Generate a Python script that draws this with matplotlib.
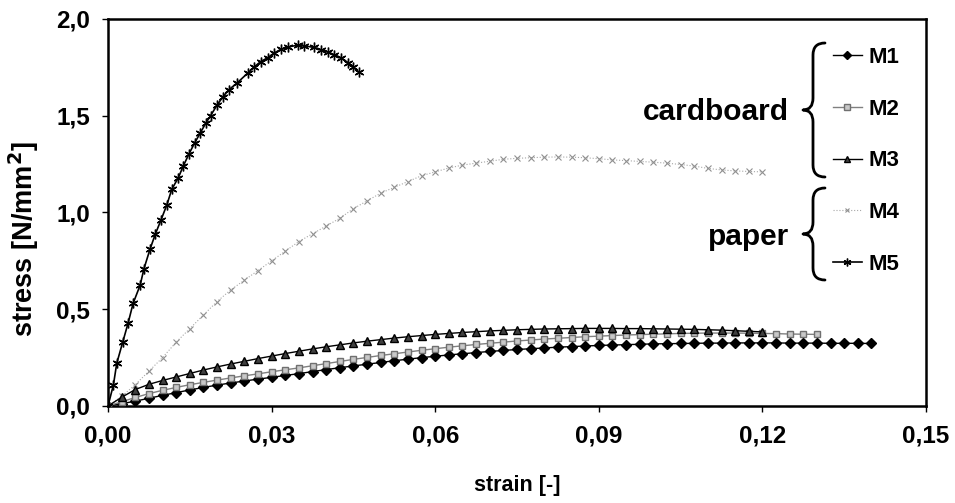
import numpy as np
import matplotlib
matplotlib.use("Agg")
import matplotlib.pyplot as plt
from matplotlib.path import Path
from matplotlib.patches import PathPatch

plt.rcParams['font.family'] = ['Liberation Sans', 'DejaVu Sans']
plt.rcParams['font.weight'] = 'bold'
plt.rcParams['mathtext.default'] = 'bf'

# strain grid shared by M1..M4
strain = [0.0, 0.0025, 0.005, 0.0075, 0.01, 0.0125, 0.015, 0.0175, 0.02, 0.0225,
          0.025, 0.0275, 0.03, 0.0325, 0.035, 0.0375, 0.04, 0.0425, 0.045, 0.0475,
          0.05, 0.0525, 0.055, 0.0575, 0.06, 0.0625, 0.065, 0.0675, 0.07, 0.0725,
          0.075, 0.0775, 0.08, 0.0825, 0.085, 0.0875, 0.09, 0.0925, 0.095, 0.0975,
          0.1, 0.1025, 0.105, 0.1075, 0.11, 0.1125, 0.115, 0.1175, 0.12, 0.1225,
          0.125, 0.1275, 0.13, 0.1325, 0.135, 0.1375, 0.14]

m1 = [0.0, 0.012, 0.025, 0.040, 0.055, 0.069, 0.083, 0.096, 0.108, 0.119,
      0.129, 0.139, 0.148, 0.158, 0.167, 0.178, 0.188, 0.198, 0.207, 0.216,
      0.225, 0.234, 0.242, 0.250, 0.257, 0.264, 0.270, 0.276, 0.282, 0.287,
      0.292, 0.296, 0.300, 0.304, 0.307, 0.310, 0.313, 0.315, 0.317, 0.319,
      0.321, 0.322, 0.323, 0.324, 0.325, 0.325, 0.326, 0.326, 0.326, 0.326,
      0.325, 0.325, 0.325, 0.324, 0.324, 0.324, 0.323]

m2 = [0.0, 0.022, 0.044, 0.064, 0.081, 0.096, 0.110, 0.122, 0.134, 0.145,
      0.156, 0.166, 0.177, 0.187, 0.197, 0.208, 0.219, 0.230, 0.241, 0.251,
      0.261, 0.270, 0.279, 0.288, 0.296, 0.304, 0.311, 0.318, 0.324, 0.330,
      0.336, 0.341, 0.346, 0.350, 0.354, 0.358, 0.361, 0.364, 0.367, 0.369,
      0.371, 0.373, 0.375, 0.376, 0.377, 0.377, 0.377, 0.376, 0.375, 0.374,
      0.372, 0.371, 0.370]

m3 = [0.0, 0.045, 0.085, 0.112, 0.132, 0.150, 0.168, 0.186, 0.202, 0.217,
      0.231, 0.245, 0.258, 0.271, 0.283, 0.295, 0.306, 0.316, 0.326, 0.335,
      0.343, 0.351, 0.358, 0.364, 0.370, 0.375, 0.380, 0.384, 0.388, 0.391,
      0.394, 0.396, 0.398, 0.399, 0.400, 0.401, 0.401, 0.401, 0.400, 0.400,
      0.399, 0.398, 0.397, 0.396, 0.394, 0.392, 0.389, 0.386, 0.383]

m4 = [0.0, 0.05, 0.11, 0.18, 0.25, 0.33, 0.40, 0.47, 0.54, 0.60,
      0.65, 0.70, 0.75, 0.80, 0.85, 0.89, 0.93, 0.97, 1.02, 1.06,
      1.10, 1.13, 1.16, 1.19, 1.21, 1.23, 1.245, 1.255, 1.265, 1.275,
      1.28, 1.283, 1.286, 1.287, 1.286, 1.283, 1.278, 1.272, 1.268, 1.264,
      1.26, 1.255, 1.248, 1.24, 1.228, 1.22, 1.215, 1.212, 1.21]

# M5 has its own strain values
strain5 = [0.0, 0.001, 0.0016, 0.0027, 0.0037, 0.0046, 0.0059, 0.0066, 0.0077, 0.0087,
           0.0097, 0.0108, 0.0117, 0.0129, 0.0138, 0.0148, 0.0159, 0.0169, 0.0179, 0.0188,
           0.020, 0.021, 0.0221, 0.0237, 0.0256, 0.0267, 0.028, 0.0293, 0.0305, 0.0317,
           0.033, 0.0348, 0.036, 0.0377, 0.039, 0.0403, 0.0415, 0.0427, 0.044, 0.045, 0.046]
m5 = [0.0, 0.11, 0.22, 0.33, 0.43, 0.53, 0.625, 0.71, 0.81, 0.89,
      0.96, 1.04, 1.12, 1.18, 1.24, 1.30, 1.36, 1.41, 1.46, 1.50,
      1.555, 1.595, 1.633, 1.67, 1.72, 1.75, 1.78, 1.80, 1.825, 1.843,
      1.855, 1.865, 1.862, 1.853, 1.842, 1.83, 1.815, 1.80, 1.775, 1.75, 1.726]

xticks = [0.0, 0.03, 0.06, 0.09, 0.12, 0.15]
xticklabels = ["0,00", "0,03", "0,06", "0,09", "0,12", "0,15"]
yticks = [0.0, 0.5, 1.0, 1.5, 2.0]
yticklabels = ["0,0", "0,5", "1,0", "1,5", "2,0"]

W, H = 955, 503
fig = plt.figure(figsize=(W / 100, H / 100), dpi=100)
ax = fig.add_axes([108 / W, (H - 406) / H, (926 - 108) / W, (406 - 19) / H])

n1, n2, n3, n4 = len(m1), len(m2), len(m3), len(m4)
l1, = ax.plot(strain[:n1], m1, color="black", lw=1, marker="D", ms=5.5,
              mfc="black", mec="black", label="M1", zorder=3)
l2, = ax.plot(strain[:n2], m2, color="#808080", lw=1, marker="s", ms=5,
              mfc="#c8c8c8", mec="#707070", label="M2", zorder=4)
l3, = ax.plot(strain[:n3], m3, color="black", lw=1, marker="^", ms=5.5,
              mfc="#404040", mec="black", label="M3", zorder=5)
l4, = ax.plot(strain[:n4], m4, color="#a8a8a8", lw=0.8, ls=":", marker="x",
              ms=4, mew=0.8, mec="#909090", label="M4", zorder=2)
l5, = ax.plot(strain5, m5, color="black", lw=1.2, marker=(6, 2, 0), ms=7,
              mew=1, label="M5", zorder=6)

ax.set_xlim(0, 0.15)
ax.set_ylim(0, 2.0)
ax.set_xticks(xticks)
ax.set_xticklabels(xticklabels)
ax.set_yticks(yticks)
ax.set_yticklabels(yticklabels)
ax.tick_params(direction="out", length=4, width=1, labelsize=17.5, pad=9)
for s in ax.spines.values():
    s.set_linewidth(1.8)
    s.set_color("black")

ax.set_xlabel("strain [-]", fontsize=15.5, fontweight="bold", labelpad=20)
ax.set_ylabel("stress [N/mm$^2$]", fontsize=19.5, fontweight="bold")
ax.yaxis.set_label_coords(-0.082, 0.43)

leg = ax.legend(handles=[l1, l2, l3, l4, l5], loc="upper left",
                bbox_to_anchor=(833 / W, (H - 47) / H),
                bbox_transform=fig.transFigure, frameon=False,
                fontsize=16, labelspacing=1.38, handlelength=1.3,
                handletextpad=0.3, borderpad=0, borderaxespad=0,
                markerscale=0.8)


def brace(y_top, y_bot, y_tip, x_stem, x_tip, x_end):
    # curly brace drawn in figure pixels (y measured from the top)
    r = 12
    pts = [(x_end, y_top), (x_stem, y_top), (x_stem, y_top + r),
           (x_stem, y_tip - r),
           (x_stem, y_tip), (x_tip, y_tip),
           (x_stem, y_tip), (x_stem, y_tip + r),
           (x_stem, y_bot - r),
           (x_stem, y_bot), (x_end, y_bot)]
    codes = [Path.MOVETO, Path.CURVE3, Path.CURVE3,
             Path.LINETO,
             Path.CURVE3, Path.CURVE3,
             Path.CURVE3, Path.CURVE3,
             Path.LINETO,
             Path.CURVE3, Path.CURVE3]
    verts = [(x / W, (H - y) / H) for x, y in pts]
    fig.patches.append(PathPatch(Path(verts, codes), transform=fig.transFigure,
                                 fill=False, lw=2, color="black",
                                 capstyle="round", joinstyle="round"))


brace(43, 177, 110, 813, 803, 825)
brace(188, 280, 234, 813, 803, 825)
fig.text(789 / W, (H - 112) / H, "cardboard", ha="right", va="center",
         fontsize=21.5, fontweight="bold")
fig.text(789 / W, (H - 237) / H, "paper", ha="right", va="center",
         fontsize=21.5, fontweight="bold")

fig.savefig("out.png", dpi=100)
